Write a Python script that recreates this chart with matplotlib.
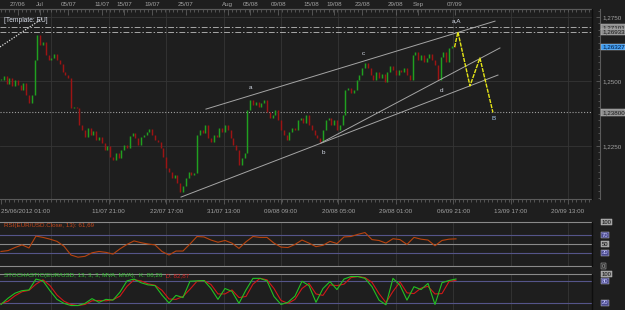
import matplotlib
matplotlib.use('Agg')
import datetime as dt
import matplotlib.pyplot as plt
import matplotlib.transforms as mtransforms
from matplotlib.ticker import FixedLocator, MultipleLocator, NullFormatter, FixedFormatter
import numpy as np

# ---------------- data ----------------
# EUR/USD 4h closes, one value every second bar starting 25/06/2012 01:00
closes = [
    1.2506, 1.2521, 1.2490, 1.2514, 1.2483, 1.2506, 1.2486, 1.2467, 1.2494, 1.2448,
    1.2417, 1.2448, 1.2583, 1.2680, 1.2641, 1.2653, 1.2603, 1.2583, 1.2591, 1.2607,
    1.2583, 1.2568, 1.2537, 1.2525, 1.2514, 1.2397, 1.2401, 1.2397, 1.2331, 1.2312,
    1.2285, 1.2320, 1.2293, 1.2308, 1.2273, 1.2285, 1.2262, 1.2234, 1.2250, 1.2207,
    1.2196, 1.2223, 1.2204, 1.2234, 1.2254, 1.2242, 1.2289, 1.2300, 1.2281, 1.2254,
    1.2285, 1.2293, 1.2304, 1.2316, 1.2293, 1.2273, 1.2266, 1.2242, 1.2207, 1.2165,
    1.2149, 1.2126, 1.2138, 1.2107, 1.2072, 1.2095, 1.2126, 1.2149, 1.2138, 1.2145,
    1.2293, 1.2312, 1.2300, 1.2331, 1.2281, 1.2266, 1.2293, 1.2285, 1.2320, 1.2304,
    1.2331, 1.2312, 1.2281, 1.2254, 1.2234, 1.2176, 1.2204, 1.2223, 1.2390, 1.2428,
    1.2409, 1.2421, 1.2401, 1.2417, 1.2428, 1.2382, 1.2359, 1.2370, 1.2390, 1.2351,
    1.2312, 1.2293, 1.2273, 1.2304, 1.2320, 1.2312, 1.2351, 1.2359, 1.2339, 1.2370,
    1.2331, 1.2312, 1.2293, 1.2281, 1.2266, 1.2312, 1.2351, 1.2359, 1.2331, 1.2351,
    1.2312, 1.2331, 1.2370, 1.2467, 1.2475, 1.2455, 1.2467, 1.2506, 1.2525, 1.2552,
    1.2572, 1.2552, 1.2525, 1.2506, 1.2537, 1.2514, 1.2529, 1.2498, 1.2537, 1.2560,
    1.2545, 1.2525, 1.2545, 1.2537, 1.2552, 1.2525, 1.2506, 1.2603, 1.2614, 1.2583,
    1.2603, 1.2576, 1.2591, 1.2607, 1.2583, 1.2564, 1.2506, 1.2595, 1.2614, 1.2576,
    1.2630, 1.2638, 1.2633,
]
close_step = 2

# RSI(13) every 5 bars
rsi_values = [
    33, 35, 42, 48, 41, 68, 65, 61, 56, 45,
    25, 20, 22, 30, 33, 31, 27, 39, 49, 57,
    53, 50, 48, 33, 25, 34, 34, 50, 67, 66,
    59, 54, 58, 52, 40, 55, 67, 65, 65, 52,
    43, 42, 49, 59, 52, 44, 47, 56, 51, 66,
    67, 72, 76, 60, 58, 52, 62, 60, 49, 65,
    61, 59, 46, 58, 61, 61.69,
]
# Stochastic %K / %D every 5 bars
stoch_k = [
    16, 33, 47, 54, 56, 86, 81, 54, 30, 19,
    13, 13, 19, 32, 22, 30, 28, 50, 81, 86,
    76, 70, 68, 42, 20, 41, 35, 80, 81, 82,
    60, 30, 60, 52, 19, 56, 88, 88, 81, 38,
    16, 22, 39, 80, 68, 22, 60, 79, 57, 86,
    93, 93, 88, 65, 28, 15, 88, 69, 28, 65,
    57, 74, 16, 76, 82, 86.26,
]
stoch_d = [
    18, 25, 40, 51, 55, 72, 84, 68, 42, 25,
    16, 13, 16, 26, 27, 26, 29, 39, 66, 84,
    81, 73, 69, 55, 31, 30, 38, 58, 80, 82,
    71, 45, 45, 56, 35, 38, 72, 88, 84, 60,
    27, 19, 30, 60, 74, 45, 41, 70, 68, 72,
    90, 93, 90, 77, 46, 21, 52, 78, 48, 46,
    61, 66, 45, 46, 79, 82.87,
]
ind_step = 5

# Drawn objects (bar index, price)
upper_channel_bars = [146.4, 352.9]
upper_channel_prices = [1.2393, 1.2734]
lower_channel_bars = [128.6, 355.0]
lower_channel_prices = [1.2052, 1.2525]
middle_line_bars = [228.6, 356.4]
middle_line_prices = [1.2262, 1.2630]
old_trend_bars = [-0.7, 30.0]
old_trend_prices = [1.2634, 1.2746]

projection_bars = [324, 326.4, 335, 342.1, 351.4]
projection_prices = [1.2633, 1.2692, 1.2483, 1.2591, 1.2380]

wave_labels = ['a', 'b', 'c', 'd', 'a,A', 'B']
wave_bars = [177.9, 230.0, 259.0, 314.3, 325.7, 352.1]
wave_prices = [1.2475, 1.2223, 1.2610, 1.2467, 1.2734, 1.2355]

level_dashdot = [1.27101, 1.26933]
level_dotted = [1.23800]
last_price = 1.26327
price_ticks = [1.2250, 1.2500, 1.2750]

top_labels = ['27/06', 'Jul', '05/07', '11/07', '15/07', '19/07', '25/07', 'Aug',
              '05/08', '09/08', '15/08', '19/08', '23/08', '29/08', 'Sep', '07/09']
top_dates = ['27/06', '01/07', '05/07', '11/07', '15/07', '19/07', '25/07', '01/08',
             '05/08', '09/08', '15/08', '19/08', '23/08', '29/08', '01/09', '07/09']
bottom_labels = ['25/06/2012 01:00', '11/07 21:00', '22/07 17:00', '31/07 13:00',
                 '09/08 09:00', '20/08 05:00', '29/08 01:00', '06/09 21:00',
                 '13/09 17:00', '20/09 13:00']

rsi_title = 'RSI(EUR/USD.Close, 13): 61,69'
stoch_title_k = 'STOCHASTIC(EUR/USD, 13, 3, 3, MVA, MVA),  K: 86,26'
stoch_title_d = '  D: 82,87'

# ---------------- time -> bar mapping (4h bars, weekend gap, future in calendar time) ----
START = dt.datetime(2012, 6, 25, 1)
LAST = dt.datetime(2012, 9, 7, 1)


def is_weekend(t):
    wd = t.weekday()
    return (wd == 4 and t.hour >= 17) or wd == 5 or (wd == 6 and t.hour < 17)


def bar_of(t):
    if t > LAST:
        return bar_of(LAST) + (t - LAST).total_seconds() / 3600 / 4
    n, cur = 0, START
    while cur < t:
        if not is_weekend(cur):
            n += 1
        cur += dt.timedelta(hours=4)
    return n


def parse(s, default_hour=1):
    parts = s.split(' ')
    d, m = parts[0].split('/')[:2]
    h = int(parts[1].split(':')[0]) if len(parts) > 1 else default_hour
    return dt.datetime(2012, int(m), int(d), h)


top_pos = [bar_of(parse(s)) for s in top_dates]
bottom_pos = [bar_of(parse(s)) for s in bottom_labels]
step = bottom_pos[2] - bottom_pos[1]
grid_pos = [bottom_pos[1] - step] + bottom_pos[1:]

# ---------------- figure ----------------
W, H = 625, 310
BG = '#1e1e1e'
GRID = '#353535'
TXT = '#a2a2a2'
FONT = 'Liberation Sans'
FS = 4.5
plt.rcParams['font.family'] = [FONT, 'DejaVu Sans']

fig = plt.figure(figsize=(W / 100, H / 100), dpi=100)
fig.patch.set_facecolor(BG)

PXB = 1.4            # pixels per bar
X0 = -0.7
PANEL_W = 592
XMAX = X0 + PANEL_W / PXB


def axes_px(top, bottom):
    return fig.add_axes([0, 1 - bottom / H, PANEL_W / W, (bottom - top) / H])


# price scale: 1.2750 at y=17 px, 2580 px per unit
main_top, main_bot = 9, 199
ax = axes_px(main_top, main_bot)
ax.set_facecolor(BG)
ax.set_xlim(X0, XMAX)
ax.set_ylim(1.2750 - (main_bot - 17) / 2580, 1.2750 + (17 - main_top) / 2580)

for g in grid_pos:
    ax.axvline(g, color=GRID, lw=0.6, zorder=0)
for p in price_ticks:
    ax.axhline(p, color=GRID, lw=0.6, zorder=0)

# candles (open = previous close)
cx = np.arange(len(closes)) * close_step
c = np.array(closes)
o = np.concatenate([[c[0]], c[:-1]])
up = c >= o
lo = np.minimum(o, c)
hi = np.maximum(o, c)
hi = np.where(hi - lo < 0.0004, lo + 0.0004, hi)
ax.vlines(cx[up], lo[up], hi[up], colors='#20a020', lw=1.05, zorder=3)
ax.vlines(cx[~up], lo[~up], hi[~up], colors='#9c1414', lw=1.05, zorder=3)

# levels
for lv in level_dashdot:
    ax.axhline(lv, color='#a8a8a8', lw=0.7, ls=(0, (6, 2, 1.5, 2)), zorder=2)
for lv in level_dotted:
    ax.axhline(lv, color='#a0a0a0', lw=0.8, ls=(0, (1, 1.6)), zorder=2)

# drawn lines
for bx, py in [(upper_channel_bars, upper_channel_prices),
               (lower_channel_bars, lower_channel_prices),
               (middle_line_bars, middle_line_prices)]:
    ax.plot(bx, py, color='#a5a5a5', lw=0.7, zorder=4)
ax.plot(old_trend_bars, old_trend_prices, color='#e0e0e0', lw=0.9, ls=(0, (1, 1.2)), zorder=4)
ax.plot(projection_bars, projection_prices, color='#e6e617', lw=1.0, ls=(0, (3, 0.8)), zorder=5)

for s, bx, py in zip(wave_labels, wave_bars, wave_prices):
    col = '#a9c8ea' if s == 'B' else '#d4dae6'
    ax.text(bx, py, s, color=col, fontsize=4.6, ha='center', va='center', zorder=6)

fig.text(4 / W, 1 - 20 / H, '[Template: EU]', fontsize=4.8, color='#d8dde8', ha='left', va='center')

# spines
ax.spines['left'].set_visible(False)
for s in ['top', 'bottom', 'right']:
    ax.spines[s].set_color('#5a5a5a')
ax.spines['right'].set_position(('outward', 8 * 0.72))
ax.plot([1, 1], [0, 1], transform=ax.transAxes, color='#0e0e0e', lw=1.0, clip_on=False, zorder=7)

# right price scale
ax.yaxis.tick_right()
ax.yaxis.set_major_locator(FixedLocator(price_ticks))
ax.yaxis.set_major_formatter(FixedFormatter([f'{p:.4f}'.replace('.', ',') for p in price_ticks]))
ax.yaxis.set_minor_locator(MultipleLocator(0.0025))
ax.tick_params(axis='y', which='both', direction='in', colors='#6a6a6a', labelcolor=TXT,
               labelsize=FS, pad=1.5, length=3, width=0.5)
ax.tick_params(axis='y', which='minor', length=1.8)

# bottom time axis
ax.xaxis.set_major_locator(FixedLocator(bottom_pos))
ax.xaxis.set_major_formatter(FixedFormatter(bottom_labels))
ax.xaxis.set_minor_locator(MultipleLocator(3))
ax.xaxis.set_minor_formatter(NullFormatter())
ax.tick_params(axis='x', which='both', direction='out', colors='#6a6a6a', labelcolor=TXT,
               labelsize=FS, length=3.5, width=0.5, pad=3.5)
ax.tick_params(axis='x', which='minor', length=2)
bl = ax.get_xticklabels()
bl[0].set_horizontalalignment('left')

# top date axis
top = ax.secondary_xaxis('top')
top.xaxis.set_major_locator(FixedLocator(top_pos))
top.xaxis.set_major_formatter(FixedFormatter(top_labels))
top.xaxis.set_minor_locator(MultipleLocator(3))
top.xaxis.set_minor_formatter(NullFormatter())
top.tick_params(axis='x', which='both', direction='in', colors='#6a6a6a', labelcolor=TXT,
                labelsize=FS, length=4, width=0.5, pad=1.2)
top.tick_params(axis='x', which='minor', length=2.2)
top.spines['top'].set_color('#5a5a5a')

# right boxed labels (main)
tr = mtransforms.blended_transform_factory(ax.transAxes, ax.transData)
XL = 602 / PANEL_W


def boxlab(axis, trans, y, s, fc, tc, fs=FS):
    axis.text(XL, y, s, transform=trans, ha='left', va='center', fontsize=fs, color=tc,
              bbox=dict(boxstyle='square,pad=0.1', fc=fc, ec='#cfcfcf', lw=0.3),
              clip_on=False, zorder=10)


boxlab(ax, tr, level_dashdot[0], f'{level_dashdot[0]:.5f}'.replace('.', ','), '#8e8e8e', '#1a1a1a')
boxlab(ax, tr, level_dashdot[1], f'{level_dashdot[1]:.5f}'.replace('.', ','), '#8e8e8e', '#1a1a1a')
boxlab(ax, tr, last_price, f'{last_price:.5f}'.replace('.', ','), '#3d9cf0', '#0a1a3a')
boxlab(ax, tr, level_dotted[0], f'{level_dotted[0]:.5f}'.replace('.', ','), '#8e8e8e', '#1a1a1a')

# ---------------- indicator panels ----------------
ix = np.arange(len(rsi_values)) * ind_step
BLUE = '#55558a'
LGRAY = '#8a8a8a'


def ind_axes(top_px, bot_px):
    a = axes_px(top_px, bot_px)
    a.set_facecolor(BG)
    a.set_xlim(X0, XMAX)
    a.set_ylim(0, 100)
    for s in a.spines.values():
        s.set_visible(False)
    a.set_xticks([])
    a.set_yticks([])
    for g in grid_pos:
        a.axvline(g, color=GRID, lw=0.6, zorder=0)
    a.plot([1, 1], [0, 1], transform=a.transAxes, color='#0e0e0e', lw=1.0, clip_on=False)
    return a


# RSI: 100 at 222 px, 0 at 266 px
ar = ind_axes(222, 266)
for lv, col in [(100, LGRAY), (70, BLUE), (50, LGRAY), (30, BLUE), (0, LGRAY)]:
    ar.axhline(lv, color=col, lw=0.8, zorder=1, clip_on=False)
ar.plot(ix, rsi_values, color='#b8430e', lw=0.8, zorder=3)
ar.text(4 / PANEL_W, 1 - 3 / 44, rsi_title, transform=ar.transAxes, fontsize=FS,
        color='#c8481a', ha='left', va='center')
trr = mtransforms.blended_transform_factory(ar.transAxes, ar.transData)
for lv, fc, tc in [(100, '#9a9a9a', '#111111'), (70, '#4a4a8e', '#c8c8ff'),
                   (50, '#9a9a9a', '#111111'), (30, '#4a4a8e', '#c8c8ff'),
                   (0, '#2a2a2a', '#b0b0b0')]:
    boxlab(ar, trr, lv, str(lv), fc, tc, fs=4.2)

# Stochastic: 100 at 274 px, 0 at 310.25 px
ast = ind_axes(274, 310.25)
for lv, col in [(100, LGRAY), (80, BLUE), (20, BLUE)]:
    ast.axhline(lv, color=col, lw=0.8, zorder=1, clip_on=False)
ast.plot(ix, stoch_d, color='#d01818', lw=0.8, zorder=3)
ast.plot(ix, stoch_k, color='#22c022', lw=0.8, zorder=4)
tk = ast.text(4 / PANEL_W, 1 - 1.5 / 36.25, stoch_title_k, transform=ast.transAxes,
              fontsize=FS, color='#30c030', ha='left', va='center')
ast.annotate(stoch_title_d, xy=(1, 0.5), xycoords=tk, fontsize=FS, color='#d02020',
             ha='left', va='center')
trs = mtransforms.blended_transform_factory(ast.transAxes, ast.transData)
for lv, fc, tc in [(100, '#9a9a9a', '#111111'), (80, '#4a4a8e', '#c8c8ff'),
                   (20, '#4a4a8e', '#c8c8ff')]:
    boxlab(ast, trs, lv, str(lv), fc, tc, fs=4.2)

fig.savefig('out.png', dpi=100, facecolor=BG)
